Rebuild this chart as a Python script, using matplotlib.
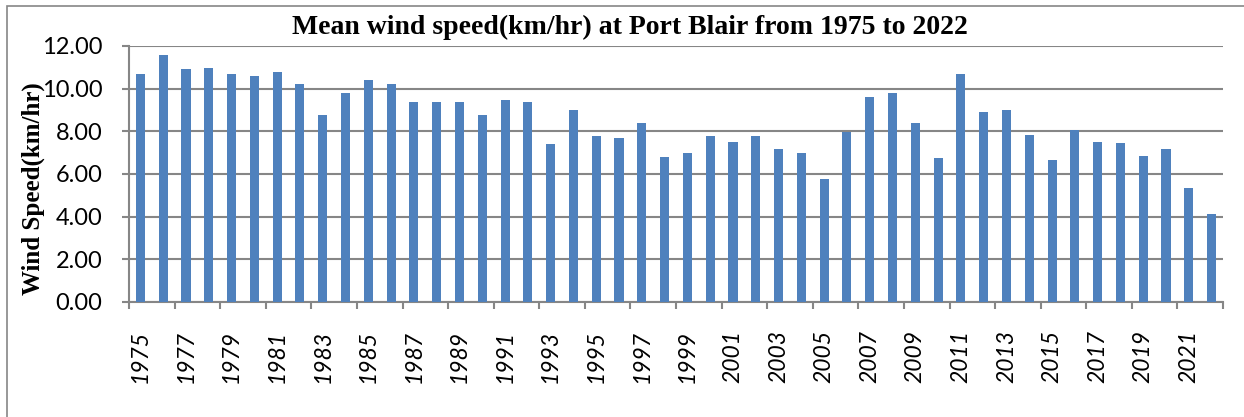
import matplotlib
matplotlib.use('Agg')
import matplotlib.pyplot as plt
from matplotlib.patches import Rectangle
import numpy as np

years = list(range(1975, 2023))
speed = [10.67, 11.56, 10.90, 10.95, 10.67, 10.58, 10.76, 10.20,
         8.75, 9.78, 10.39, 10.20, 9.36, 9.36, 9.36, 8.75,
         9.45, 9.36, 7.40, 8.99, 7.77, 7.68, 8.38, 6.79,
         6.98, 7.77, 7.49, 7.77, 7.17, 6.98, 5.76, 7.98,
         9.60, 9.78, 8.38, 6.74, 10.67, 8.89, 8.99, 7.82,
         6.65, 8.05, 7.49, 7.45, 6.84, 7.17, 5.34, 4.13]
yticks = [0, 2, 4, 6, 8, 10, 12]

title = 'Mean wind speed(km/hr) at Port Blair from 1975 to 2022'
ylabel = 'Wind Speed(km/hr)'

grey = '#868686'
W, H = 1244, 417

fig = plt.figure(figsize=(W / 100, H / 100), dpi=100)
ax = fig.add_axes([129 / W, (H - 302) / H, (1223 - 129) / W, (302 - 46) / H])

x = np.arange(len(years))
ax.bar(x, speed, width=0.4, color='#4F81BD', zorder=3)

ax.set_xlim(-0.5, len(years) - 0.5)
ax.set_ylim(0, 12)
ax.set_yticks(yticks)
ax.set_yticklabels(['%.2f' % v for v in yticks], fontfamily='Lato', fontsize=17)
ax.yaxis.grid(True, color=grey, lw=1.5, zorder=0)

ax.set_xticks(x[::2])
ax.set_xticklabels([str(y) for y in years[::2]], rotation=90, fontfamily='Lato',
                   fontstyle='italic', fontsize=16.5, va='top')
ax.set_xticks(np.arange(-0.5, len(years), 2), minor=True)
ax.tick_params(axis='x', which='major', length=0, pad=20)
ax.tick_params(axis='x', which='minor', length=5, width=1.5, color=grey)
ax.tick_params(axis='y', length=5, width=1.5, color=grey, pad=14)

for s in ['top', 'right']:
    ax.spines[s].set_visible(False)
for s in ['left', 'bottom']:
    ax.spines[s].set_color(grey)
    ax.spines[s].set_linewidth(1.5)

fig.text(630 / W, 1 - 27 / H, title, ha='center', va='center',
         fontfamily='Liberation Serif', fontweight='bold', fontsize=20)
fig.text(33 / W, 1 - 189 / H, ylabel, ha='center', va='center', rotation=90,
         fontfamily='Liberation Serif', fontweight='bold', fontsize=18)

# outer chart border (cut off at right and bottom)
fig.patches.append(Rectangle((7 / W, -0.1), 1.2, 1.1 - 6 / H, transform=fig.transFigure,
                             fill=False, edgecolor=grey, lw=1.2))

fig.savefig('out.png', dpi=100)
